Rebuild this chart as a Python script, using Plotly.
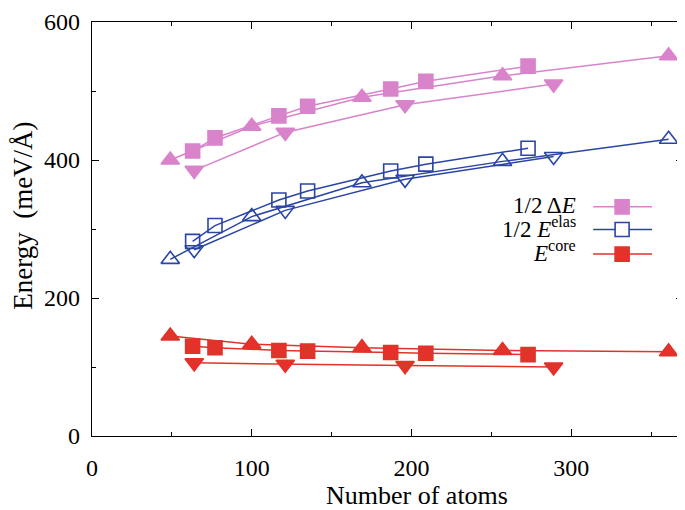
import plotly.graph_objects as go

# ---- data ----
n_sq = [63, 77, 117, 135, 187, 209, 273]
n_up = [49, 100, 169, 257, 361]
n_dn = [64, 121, 196, 289]

dE_sq = [413, 432, 464, 478, 503, 514, 536]
dE_up = [400, 449, 491, 522, 551]
dE_dn = [385, 440, 480, 510]

el_sq = [282, 305, 342, 355, 384, 394, 417]
el_up = [256, 318, 367, 398, 430]
el_dn = [270, 327, 372, 405]

co_sq = [130, 128, 124, 123, 121, 120, 118]
co_up = [145, 133, 128, 124, 122]
co_dn = [106, 104, 102, 100]

x_ticks = [0, 100, 200, 300]
y_ticks = [0, 200, 400, 600]

PINK = "#d983cb"
BLUE = "#2b45a5"
RED = "#e2322a"
FONT = "Liberation Serif"

fig = go.Figure()

def add(x, y, color, symbol, size):
    fig.add_trace(go.Scatter(
        x=x, y=y, mode="lines+markers",
        line=dict(color=color, width=1.5),
        marker=dict(symbol=symbol, size=size, color=color,
                    line=dict(color=color, width=1.6)),
        showlegend=False, cliponaxis=False))

add(n_up, dE_up, PINK, "triangle-up", 16)
add(n_dn, dE_dn, PINK, "triangle-down", 16)
add(n_sq, dE_sq, PINK, "square", 14)
add(n_up, el_up, BLUE, "triangle-up-open", 16)
add(n_dn, el_dn, BLUE, "triangle-down-open", 16)
add(n_sq, el_sq, BLUE, "square-open", 14)
add(n_up, co_up, RED, "triangle-up", 16)
add(n_dn, co_dn, RED, "triangle-down", 16)
add(n_sq, co_sq, RED, "square", 14)

# page has an 8px body margin: work in screenshot pixels, then offset
OFF = 8
W, H = 685, 510
L, R, T, B = 92, 684, 15, 436
def px(p):
    return (p - L) / (R - L)
def py(q):
    return (B - q) / (B - T)

legend = [("1/2 Δ<i>E</i>", PINK, True, 203, 202),
          ("1/2 <i>E</i><sup>elas</sup>", BLUE, False, 226, 224),
          ("<i>E</i><sup>core</sup>", RED, True, 251, 248)]
shapes = []
annos = []
for text, col, filled, row, trow in legend:
    yy = py(row)
    shapes.append(dict(type="line", xref="paper", yref="paper",
                       x0=px(594), x1=px(653), y0=yy, y1=yy,
                       line=dict(color=col, width=1.5)))
    shapes.append(dict(type="rect", xref="paper", yref="paper",
                       xsizemode="pixel", ysizemode="pixel",
                       xanchor=px(623), yanchor=yy,
                       x0=-7, x1=7, y0=-7, y1=7,
                       fillcolor=col if filled else "white",
                       line=dict(color=col, width=1.6)))
    annos.append(dict(xref="paper", yref="paper", x=px(579), y=py(trow),
                      xanchor="right", yanchor="middle", showarrow=False,
                      text=text, font=dict(family=FONT, size=23, color="black")))

# axis titles
annos.append(dict(xref="paper", yref="paper", x=px(418), y=py(496),
                  xanchor="center", yanchor="middle", showarrow=False,
                  text="Number of atoms", font=dict(family=FONT, size=26, color="black")))
annos.append(dict(xref="paper", yref="paper", x=px(23), y=py(212),
                  xanchor="center", yanchor="middle", showarrow=False, textangle=-90,
                  text="Energy  (meV/Å)", font=dict(family=FONT, size=27, color="black")))

axis_common = dict(showline=True, linecolor="black", linewidth=1.2,
                   mirror="ticks", ticks="inside", ticklen=7, tickwidth=1.2,
                   tickcolor="black", showgrid=False, zeroline=False,
                   ticklabeloverflow="allow",
                   tickfont=dict(family=FONT, size=24, color="black"))

fig.update_layout(
    width=W - OFF, height=H - OFF,
    margin=dict(l=L - OFF, r=W - R, t=T - OFF, b=H - B),
    paper_bgcolor="white", plot_bgcolor="white",
    font=dict(family=FONT, size=24, color="black"),
    shapes=shapes, annotations=annos,
    xaxis=dict(range=[0, 370], tickvals=x_ticks,
               minor=dict(dtick=50, tick0=0, ticks="inside", ticklen=4, tickcolor="black", tickwidth=1.2),
               ticklabelstandoff=10,
               **axis_common),
    yaxis=dict(range=[0, 600], tickvals=y_ticks,
               minor=dict(dtick=100, tick0=0, ticks="inside", ticklen=4, tickcolor="black", tickwidth=1.2),
               ticklabelstandoff=6,
               **axis_common),
)

fig.write_html("out.html")
